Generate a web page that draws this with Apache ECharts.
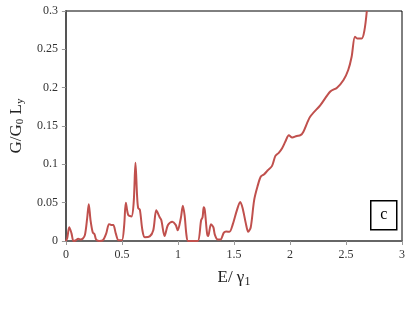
<!DOCTYPE html>
<html>
<head>
<meta charset="utf-8">
<script src="https://cdn.jsdelivr.net/npm/echarts@6/dist/echarts.min.js"></script>
<style>
  html, body { margin: 0; padding: 0; background: #fff; }
  #chart { width: 415px; height: 313px; }
</style>
</head>
<body>
<div id="chart"></div>
<script>
// energy E/γ1 and conductance G/G0 Ly
const energy = [
  0, 0.012, 0.03, 0.05, 0.068, 0.09, 0.11, 0.13, 0.15, 0.17, 0.19, 0.204, 0.22, 0.24, 0.255,
  0.27, 0.3, 0.33, 0.36, 0.385, 0.405, 0.423, 0.445, 0.47, 0.5, 0.52, 0.535, 0.556, 0.585,
  0.605, 0.621, 0.635, 0.645, 0.66, 0.683, 0.704, 0.748, 0.78, 0.807, 0.837, 0.852, 0.881,
  0.911, 0.95, 0.98, 0.998, 1.026, 1.044, 1.06, 1.075, 1.09, 1.13, 1.177, 1.207, 1.22, 1.23,
  1.24, 1.26, 1.27, 1.295, 1.316, 1.33, 1.355, 1.38, 1.41, 1.43, 1.46, 1.488, 1.526, 1.556,
  1.577, 1.606, 1.627, 1.65, 1.68, 1.71, 1.74, 1.77, 1.8, 1.84, 1.87, 1.9, 1.93, 1.96, 1.99,
  2.02, 2.06, 2.094, 2.12, 2.18, 2.27, 2.36, 2.42, 2.478, 2.52, 2.55, 2.58, 2.6, 2.64, 2.665,
  2.686
];
const conductance = [
  0, 0.004, 0.018, 0.01, 0, 0.001, 0.003, 0.002, 0.003, 0.008, 0.03, 0.048, 0.027, 0.011,
  0.009, 0.002, 0, 0.001, 0.01, 0.022, 0.021, 0.021, 0.01, 0.001, 0.001, 0.02, 0.05, 0.034,
  0.032, 0.05, 0.102, 0.06, 0.043, 0.041, 0.014, 0.005, 0.006, 0.014, 0.04, 0.031, 0.027,
  0.0065, 0.021, 0.025, 0.021, 0.014, 0.03, 0.046, 0.033, 0.009, 0, 0, 0, 0.027, 0.031,
  0.044, 0.04, 0.01, 0.0065, 0.022, 0.018, 0.008, 0.002, 0.002, 0.011, 0.0125, 0.012, 0.021,
  0.04, 0.051, 0.043, 0.023, 0.012, 0.018, 0.053, 0.071, 0.084, 0.087, 0.092, 0.098, 0.111,
  0.115, 0.121, 0.13, 0.138, 0.135, 0.137, 0.138, 0.1426, 0.162, 0.177, 0.195, 0.2, 0.21,
  0.223, 0.24, 0.2665, 0.264, 0.264, 0.275, 0.3
];
const points = energy.map((e, i) => [e, conductance[i]]);

const serif = 'Liberation Serif';
const chart = echarts.init(document.getElementById('chart'));
chart.setOption({
  animation: false,
  backgroundColor: '#fff',
  grid: {
    left: 64, right: 13, top: 11, bottom: 72,
    show: true, borderColor: '#000', borderWidth: 1, backgroundColor: 'transparent'
  },
  xAxis: {
    type: 'value',
    min: 0, max: 3, interval: 0.5,
    name: '{n|E/ γ}{s|1}',
    nameLocation: 'middle',
    nameGap: 27,
    nameTextStyle: {
      rich: {
        n: { fontFamily: serif, fontSize: 17, color: '#222' },
        s: { fontFamily: serif, fontSize: 12, color: '#222', verticalAlign: 'bottom', padding: [8, 0, 0, 0] }
      }
    },
    axisLine: { lineStyle: { color: '#666', width: 2 } },
    axisTick: { show: true, length: 4, lineStyle: { color: '#999' } },
    axisLabel: { fontFamily: serif, fontSize: 12, color: '#333', margin: 8 },
    splitLine: { show: false }
  },
  yAxis: {
    type: 'value',
    min: 0, max: 0.3, interval: 0.05,
    name: '{n|G/G}{s|0}{n| L}{s|y}',
    nameLocation: 'middle',
    nameGap: 37,
    nameTextStyle: {
      rich: {
        n: { fontFamily: serif, fontSize: 17, color: '#222' },
        s: { fontFamily: serif, fontSize: 11, color: '#222', padding: [8, 0, 0, 0] }
      }
    },
    axisLine: { show: true, lineStyle: { color: '#555', width: 2 } },
    axisTick: { show: true, length: 4, lineStyle: { color: '#999' } },
    axisLabel: { fontFamily: serif, fontSize: 12, color: '#333', margin: 8 },
    splitLine: { show: false }
  },
  series: [{
    type: 'line',
    data: points,
    smooth: 0.3,
    showSymbol: false,
    clip: true,
    lineStyle: { color: '#c0504d', width: 2 }
  }],
  graphic: [{
    type: 'group',
    left: 370, top: 200,
    children: [
      { type: 'rect', shape: { x: 0, y: 0, width: 26, height: 29 },
        style: { fill: '#fff', stroke: '#000', lineWidth: 1.5 } },
      { type: 'text', x: 13, y: 14.5,
        style: { text: 'c', fontFamily: serif, fontSize: 16, fill: '#000', align: 'center', verticalAlign: 'middle' } }
    ]
  }]
});
</script>
</body>
</html>
